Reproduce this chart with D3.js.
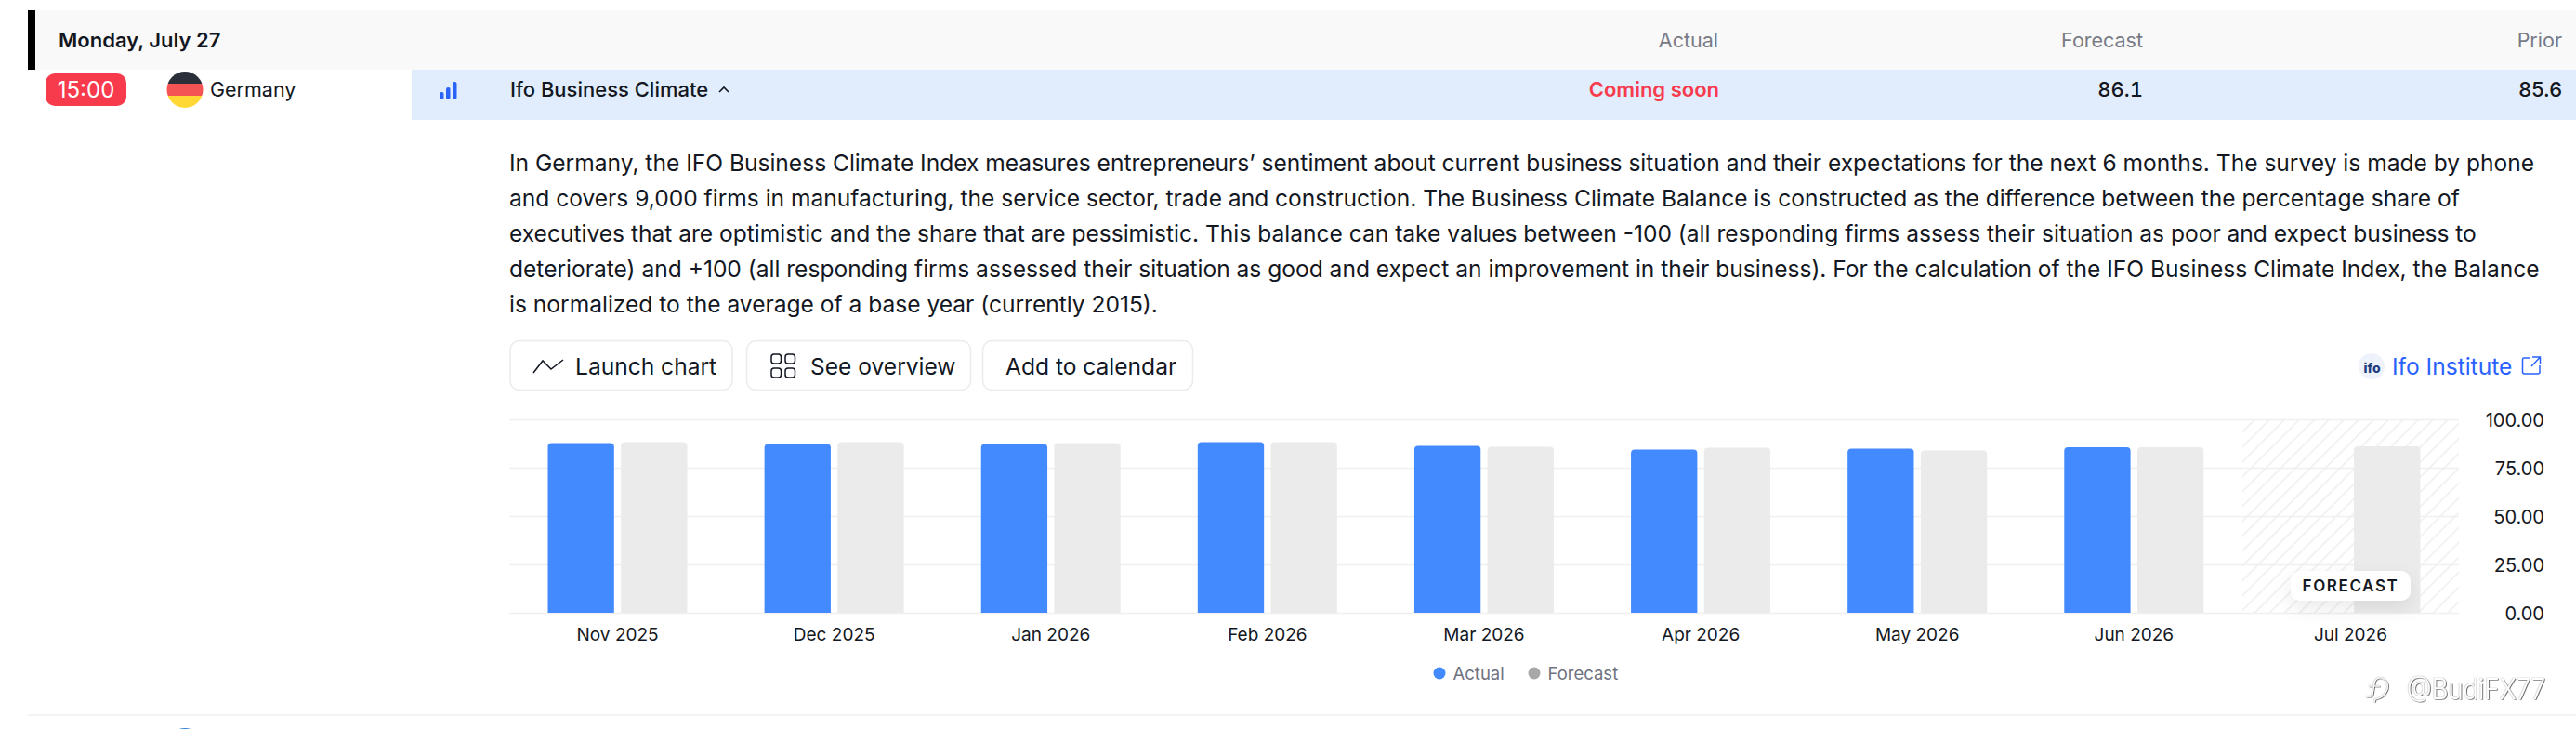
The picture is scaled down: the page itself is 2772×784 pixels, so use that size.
<!DOCTYPE html>
<html>
<head>
<meta charset="utf-8">
<script src="https://cdn.jsdelivr.net/npm/d3@7"></script>
<style>
  html, body { margin: 0; padding: 0; background: #fff; overflow: hidden; }
  svg { display: block; }
  text { font-family: Inter, "Noto Sans", sans-serif; }
</style>
</head>
<body>
<svg id="chart"></svg>
<script>
// values
const months = ['Nov 2025', 'Dec 2025', 'Jan 2026', 'Feb 2026', 'Mar 2026', 'Apr 2026', 'May 2026', 'Jun 2026', 'Jul 2026'];
const actualValues = [87.7, 87.3, 87.3, 88.2, 86.3, 84.4, 84.9, 85.6, null];
const forecastValues = [88.2, 88.2, 87.7, 88.2, 85.8, 85.3, 83.9, 85.6, 86.1];
const seriesNames = ['Actual', 'Forecast'];
const yTicks = [0, 25, 50, 75, 100];

const paragraphLines = [
  'In Germany, the IFO Business Climate Index measures entrepreneurs\u2019 sentiment about current business situation and their expectations for the next 6 months. The survey is made by phone',
  'and covers 9,000 firms in manufacturing, the service sector, trade and construction. The Business Climate Balance is constructed as the difference between the percentage share of',
  'executives that are optimistic and the share that are pessimistic. This balance can take values between -100 (all responding firms assess their situation as poor and expect business to',
  'deteriorate) and +100 (all responding firms assessed their situation as good and expect an improvement in their business). For the calculation of the IFO Business Climate Index, the Balance',
  'is normalized to the average of a base year (currently 2015).',
];

const width = 2772;
const height = 784;
const colors = { Actual: '#448aff', Forecast: '#ebebeb' };
const legendColors = { Actual: '#448aff', Forecast: '#a8a8a8' };
const ink = '#131722';

const svg = d3.select('#chart').attr('width', width).attr('height', height);
const defs = svg.append('defs');

// small helper so the static text stays short
function label(x, y, str, size, opts = {}) {
  return svg
    .append('text')
    .attr('x', x)
    .attr('y', y)
    .attr('font-size', size)
    .attr('font-weight', opts.weight || 400)
    .attr('fill', opts.fill || ink)
    .attr('text-anchor', opts.anchor || 'start')
    .attr('dominant-baseline', opts.baseline || 'central')
    .text(str);
}

// Header row
svg.append('rect').attr('x', 30).attr('y', 11).attr('width', width - 30).attr('height', 64).attr('fill', '#f9f9f9');
svg.append('rect').attr('x', 30).attr('y', 11).attr('width', 8).attr('height', 64).attr('fill', '#000');
label(63, 43, 'Monday, July 27', 22, { weight: 600 });
label(1849, 43, 'Actual', 21.5, { anchor: 'end', fill: '#787b86' });
label(2306, 43, 'Forecast', 21.5, { anchor: 'end', fill: '#787b86' });
label(2757, 43, 'Prior', 21.5, { anchor: 'end', fill: '#787b86' });

// Event row
svg.append('rect').attr('x', 443).attr('y', 75).attr('width', width - 443).attr('height', 54).attr('fill', '#e1edfc');
svg.append('rect').attr('x', 49).attr('y', 79).attr('width', 87).attr('height', 35).attr('rx', 10).attr('fill', '#f73b4c');
label(92.5, 96.5, '15:00', 24, { anchor: 'middle', fill: '#fff' });

defs.append('clipPath').attr('id', 'flag').append('circle').attr('cx', 199).attr('cy', 96.5).attr('r', 19.5);
const flag = svg.append('g').attr('clip-path', 'url(#flag)');
['#2b2f3a', '#f45454', '#ffd835'].forEach((c, i) => {
  flag.append('rect').attr('x', 179).attr('y', 77 + i * 13).attr('width', 40).attr('height', 13).attr('fill', c);
});
label(226, 96, 'Germany', 21.5);

// importance icon
[[473, 99, 8], [480, 94, 13], [487, 88, 19]].forEach(([x, y, h]) => {
  svg.append('rect').attr('x', x).attr('y', y).attr('width', 4.5).attr('height', h).attr('rx', 2).attr('fill', '#2a64f6');
});
label(549, 96, 'Ifo Business Climate', 22, { weight: 500 });
svg.append('path').attr('d', 'M774 99 L779 94 L784 99').attr('fill', 'none').attr('stroke', ink).attr('stroke-width', 1.6);
label(1850, 96, 'Coming soon', 22, { anchor: 'end', weight: 600, fill: '#f73b4c' });
label(2306, 96, '86.1', 22, { anchor: 'end', weight: 500 }).style('font-variant-numeric', 'tabular-nums');
label(2757, 96, '85.6', 22, { anchor: 'end', weight: 500 });

// Description
svg
  .selectAll('text.para')
  .data(paragraphLines)
  .join('text')
  .attr('class', 'para')
  .attr('x', 548)
  .attr('y', (d, i) => 183.5 + i * 38.2)
  .attr('font-size', 24.55)
  .attr('fill', ink)
  .text((d) => d);

// Buttons
function button(x, w, str, textX) {
  svg.append('rect').attr('x', x + 0.5).attr('y', 366.5).attr('width', w).attr('height', 53).attr('rx', 10).attr('fill', '#fff').attr('stroke', '#ececec').attr('stroke-width', 1.5);
  label(textX, 394, str, 24.55);
}
button(548.5, 239, 'Launch chart', 619);
button(803, 241, 'See overview', 872);
button(1057, 226, 'Add to calendar', 1082);
svg.append('path').attr('d', 'M574 401 L584 388 L593 397 L606 387').attr('fill', 'none').attr('stroke', ink).attr('stroke-width', 1.5);
[[830, 381], [845, 381], [830, 396], [845, 396]].forEach(([x, y]) => {
  svg.append('rect').attr('x', x).attr('y', y).attr('width', 10.5).attr('height', 10).attr('rx', 3).attr('fill', 'none').attr('stroke', ink).attr('stroke-width', 1.5);
});

// Source link
svg.append('circle').attr('cx', 2552).attr('cy', 394).attr('r', 14).attr('fill', '#eef2fb');
label(2552.5, 395, 'ifo', 14, { anchor: 'middle', weight: 800, fill: '#1f3f7f' });
label(2574, 394, 'Ifo Institute', 24.55, { fill: '#2962ff' });
svg.append('path')
  .attr('d', 'M2722 385 H2716 Q2714.5 385 2714.5 386.5 V400 Q2714.5 402 2716.5 402 H2731 Q2733 402 2733 400 V393 M2725 384 H2733.5 V392 M2733.5 384 L2724 394')
  .attr('fill', 'none').attr('stroke', '#2962ff').attr('stroke-width', 1.5);

// Scales
const x0 = d3.scaleBand().domain(months).range([548, 2646]);
const x1 = d3.scaleBand().domain(seriesNames).range([41.5, 191.5]).paddingInner(0.0933);
const y = d3.scaleLinear().domain([0, 100]).range([659, 451]);

// hatched forecast zone
defs.append('pattern')
  .attr('id', 'hatch')
  .attr('patternUnits', 'userSpaceOnUse')
  .attr('width', 11.3)
  .attr('height', 11.3)
  .attr('patternTransform', 'rotate(45)')
  .append('rect').attr('width', 1.6).attr('height', 11.3).attr('fill', '#f0f0f0');
svg.append('rect')
  .attr('x', x0('Jul 2026'))
  .attr('y', y(100))
  .attr('width', x0.bandwidth())
  .attr('height', y(0) - y(100))
  .attr('fill', 'url(#hatch)');

// gridlines
const grid = svg.append('g')
  .attr('transform', 'translate(548,0)')
  .call(d3.axisRight(y).tickValues(yTicks).tickSize(2098).tickFormat(''));
grid.select('.domain').remove();
grid.selectAll('line').attr('stroke', '#f0f0f0').attr('stroke-width', 1.5);

// bars, rounded only on top
function topRounded(bx, by, w, h, r) {
  return `M${bx},${by + h} V${by + r} Q${bx},${by} ${bx + r},${by} H${bx + w - r} Q${bx + w},${by} ${bx + w},${by + r} V${by + h} Z`;
}
const barData = months.flatMap((m, i) => [
  { month: m, series: 'Actual', value: actualValues[i] },
  { month: m, series: 'Forecast', value: forecastValues[i] },
]).filter((d) => d.value !== null);

svg.append('g')
  .selectAll('path')
  .data(barData)
  .join('path')
  .attr('d', (d) => topRounded(x0(d.month) + x1(d.series), y(d.value), x1.bandwidth(), y(0) - y(d.value), 4))
  .attr('fill', (d) => colors[d.series]);

// axes
const xAxis = svg.append('g')
  .attr('transform', `translate(0,${y(0)})`)
  .call(d3.axisBottom(x0).tickSize(0).tickPadding(17));
xAxis.select('.domain').remove();
xAxis.selectAll('text').attr('font-size', 19).attr('font-family', 'Inter').attr('fill', ink).attr('dy', '0.71em');

const yAxis = svg.append('g')
  .attr('transform', 'translate(2738,1)')
  .call(d3.axisLeft(y).tickValues(yTicks).tickSize(0).tickPadding(0).tickFormat(d3.format('.2f')));
yAxis.select('.domain').remove();
yAxis.selectAll('text').attr('font-size', 20).attr('font-family', 'Inter').attr('fill', ink);

// FORECAST tag
defs.append('filter').attr('id', 'soft').attr('x', '-30%').attr('y', '-60%').attr('width', '160%').attr('height', '240%')
  .append('feDropShadow').attr('dx', 0).attr('dy', 8).attr('stdDeviation', 10).attr('flood-color', '#000').attr('flood-opacity', 0.08);
svg.append('rect').attr('x', 2465).attr('y', 614).attr('width', 129).attr('height', 32).attr('rx', 10).attr('fill', '#fff').attr('filter', 'url(#soft)');
label(2529.5, 630, 'FORECAST', 17, { anchor: 'middle', weight: 600 }).attr('letter-spacing', 1.6);

// Legend
const legendX = d3.scaleOrdinal().domain(seriesNames).range([1549, 1651]);
const legend = svg.append('g').selectAll('g').data(seriesNames).join('g');
legend.append('circle').attr('cx', (d) => legendX(d)).attr('cy', 724).attr('r', 6.5).attr('fill', (d) => legendColors[d]);
legend.append('text')
  .attr('x', (d) => legendX(d) + 14.5)
  .attr('y', 723.5)
  .attr('dominant-baseline', 'central')
  .attr('font-size', 18.5)
  .attr('fill', '#6f7280')
  .text((d) => d);

// Watermark: white glyphs with a hard offset edge, and the row below
const emboss = defs.append('filter').attr('id', 'emboss').attr('x', '-5%').attr('y', '-10%').attr('width', '110%').attr('height', '120%');
emboss.append('feDropShadow').attr('dx', 0.9).attr('dy', 0.6).attr('stdDeviation', 0.2).attr('flood-color', '#555').attr('result', 'a');
emboss.append('feDropShadow').attr('in', 'a').attr('dx', -0.5).attr('dy', -0.3).attr('stdDeviation', 0.2).attr('flood-color', '#c4c4c4');

svg.append('path')
  .attr('d', 'M2563 729 Q2556 728 2555 735 L2553 747 Q2552 750 2546 749 M2549 738 H2561 M2563 729 Q2571 733 2569 741 Q2566 750 2556 752 L2555 755')
  .attr('fill', 'none').attr('stroke', '#fff').attr('stroke-width', 1.2).attr('filter', 'url(#emboss)');
label(2590, 740, '@BudiFX77', 31, { fill: '#fff', weight: 300 })
  .attr('textLength', 149)
  .attr('lengthAdjust', 'spacingAndGlyphs')
  .attr('filter', 'url(#emboss)');

svg.append('line').attr('x1', 30).attr('x2', width).attr('y1', 769).attr('y2', 769).attr('stroke', '#efefef').attr('stroke-width', 1.5);
svg.append('circle').attr('cx', 199).attr('cy', 803).attr('r', 20).attr('fill', '#2f7fd6');
</script>
</body>
</html>
